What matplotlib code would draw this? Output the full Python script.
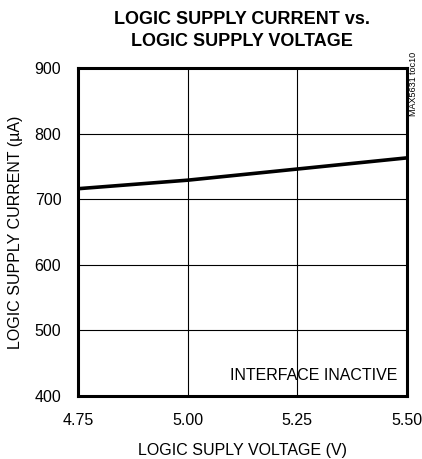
import matplotlib
matplotlib.use("Agg")
import matplotlib.pyplot as plt

plt.rcParams['font.family'] = ['Liberation Sans', 'DejaVu Sans']

voltage = [4.75, 5.00, 5.25, 5.50]
current = [716, 729, 746, 763]
xticks = [4.75, 5.00, 5.25, 5.50]
yticks = [400, 500, 600, 700, 800, 900]

fig = plt.figure(figsize=(4.22, 4.59), dpi=100)
ax = fig.add_axes([78 / 422, 1 - 396 / 459, 329 / 422, 328 / 459])

ax.plot(voltage, current, color='black', linewidth=2.6)
ax.set_xlim(4.75, 5.50)
ax.set_ylim(400, 900)
ax.set_xticks(xticks)
ax.set_xticklabels(['%.2f' % v for v in xticks])
ax.set_yticks(yticks)
ax.grid(True, color='black', linewidth=0.8)
ax.tick_params(length=0, labelsize=11.5, pad=12)
for s in ax.spines.values():
    s.set_linewidth(2.2)

ax.set_xlabel('LOGIC SUPLY VOLTAGE (V)', fontsize=11.5, labelpad=11)
ax.set_ylabel('LOGIC SUPPLY CURRENT (\u00b5A)', fontsize=11.5, labelpad=8)
fig.text(0.574, 0.976, 'LOGIC SUPPLY CURRENT vs.\nLOGIC SUPPLY VOLTAGE',
         ha='center', va='top', fontsize=13, fontweight='bold', linespacing=1.4)
ax.text(0.97, 0.04, 'INTERFACE INACTIVE', transform=ax.transAxes,
        ha='right', va='bottom', fontsize=11.5)
fig.text(413 / 422, 1 - 52 / 459, 'MAX5631 toc10', rotation=90,
         ha='center', va='top', fontsize=6.5)

fig.savefig('out.png', dpi=100)
